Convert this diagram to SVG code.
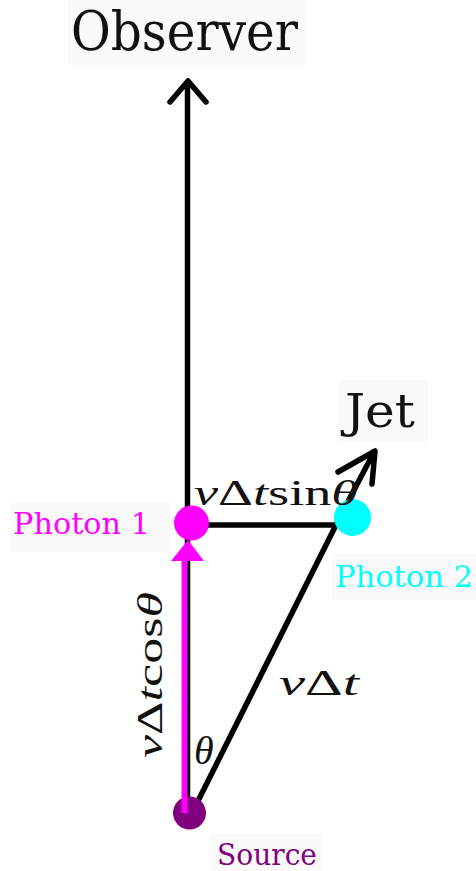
<svg xmlns="http://www.w3.org/2000/svg" width="476" height="871" viewBox="0 0 476 871">
<style>
.bg{fill:#fafafa}
.line{stroke:#000;stroke-width:5.5;fill:none;stroke-linecap:round;stroke-linejoin:round}
.lbl{font-family:"DejaVu Serif","Liberation Serif",serif}
.math{font-family:"Liberation Serif","DejaVu Serif",serif;fill:#111}
.it{font-style:italic}
</style>
<rect width="476" height="871" fill="#fff"/>
<g id="label-backgrounds">
<rect class="bg" x="68" y="0" width="239" height="65"/>
<rect class="bg" x="339" y="380" width="89" height="62"/>
<rect class="bg" x="10" y="502" width="160" height="50"/>
<rect class="bg" x="332" y="553" width="144" height="47"/>
<rect class="bg" x="210" y="833" width="113" height="38"/>
</g>
<g id="connectors">
<line class="line" x1="187.5" y1="84" x2="187.5" y2="812"/>
<polyline class="line" points="170,102 188,81 206,102"/>
<line class="line" x1="192" y1="525" x2="337" y2="525"/>
<line class="line" x1="337" y1="523" x2="196" y2="805"/>
<line class="line" x1="343" y1="511" x2="374" y2="452"/>
<polyline class="line" points="338,472 375,451 372,484"/>
</g>
<g id="source">
<circle cx="189.5" cy="813" r="16.5" fill="#800080"/>
<text class="lbl" x="217" y="865" font-size="30" fill="#800080" textLength="100" lengthAdjust="spacingAndGlyphs">Source</text>
</g>
<g id="photon1-path">
<line x1="184.5" y1="813" x2="184.5" y2="558" stroke="#ff00ff" stroke-width="6"/>
<polygon points="188,540 171,561 204,561" fill="#ff00ff"/>
</g>
<g id="photon1">
<circle cx="191.5" cy="523" r="17.5" fill="#ff00ff"/>
<text class="lbl" x="13" y="534" font-size="30" fill="#ff00ff" textLength="137" lengthAdjust="spacingAndGlyphs">Photon 1</text>
</g>
<g id="photon2">
<circle cx="352.5" cy="517.5" r="18.5" fill="#00ffff"/>
<text class="lbl" x="335" y="587" font-size="30" fill="#00ffff" textLength="138" lengthAdjust="spacingAndGlyphs">Photon 2</text>
</g>
<g id="observer">
<text class="lbl" x="71" y="50" font-size="55" fill="#111" textLength="227" lengthAdjust="spacingAndGlyphs">Observer</text>
</g>
<g id="jet">
<text class="lbl" x="345" y="427" font-size="46" fill="#111" textLength="70" lengthAdjust="spacingAndGlyphs">Jet</text>
</g>
<g id="math-labels">
<text class="math" x="194" y="505" font-size="36" textLength="164" lengthAdjust="spacingAndGlyphs"><tspan class="it">v</tspan>Δ<tspan class="it">t</tspan>sin<tspan class="it">θ</tspan></text>
<text class="math" x="279" y="695" font-size="36" textLength="80" lengthAdjust="spacingAndGlyphs"><tspan class="it">v</tspan>Δ<tspan class="it">t</tspan></text>
<text class="math" transform="translate(162,758) rotate(-90)" x="0" y="0" font-size="36" textLength="166" lengthAdjust="spacingAndGlyphs"><tspan class="it">v</tspan>Δ<tspan class="it">t</tspan>cos<tspan class="it">θ</tspan></text>
<text class="math it" x="194" y="764" font-size="40">θ</text>
</g>
</svg>
